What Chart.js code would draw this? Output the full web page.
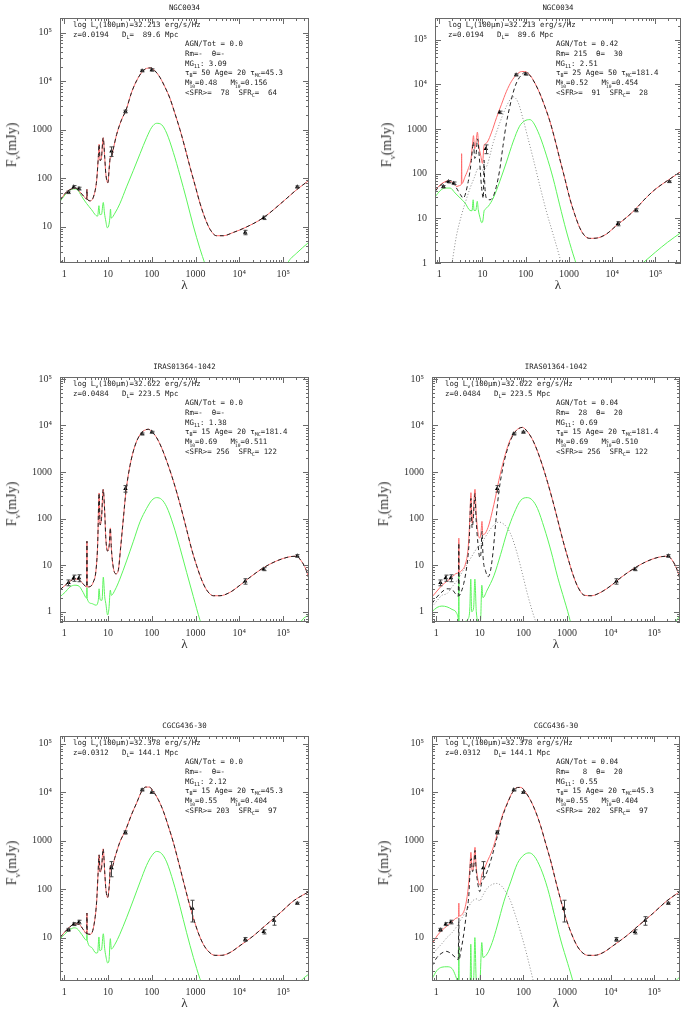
<!DOCTYPE html>
<html>
<head>
<meta charset="utf-8">
<script src="https://cdn.jsdelivr.net/npm/chart.js@4.4.1/dist/chart.umd.min.js"></script>
<style>
body { margin: 0; background: #fff; width: 686px; height: 1017px; position: relative; overflow: hidden; }
.panel { position: absolute; }
.txt { position: absolute; white-space: pre; font-family: "DejaVu Sans Mono", monospace; font-size: 7.4px; color: #222; line-height: 10px; }
.txt sub, .txt sup { font-size: 5px; line-height: 0; }
.ss { display: inline-block; vertical-align: -3px; font-size: 4.6px; line-height: 4.6px; }
.ss span { display: block; }
.ttl { position: absolute; font-family: "DejaVu Sans Mono", monospace; font-size: 7.4px; color: #222; transform: translate(-50%, -50%); white-space: pre; }
.ylab { position: absolute; font-family: "Liberation Serif", serif; font-size: 14px; color: #333; white-space: nowrap; transform: translate(-50%, -50%) rotate(-90deg); }
.ylab sub { font-size: 9px; }
.xlab { position: absolute; font-family: "Liberation Serif", serif; font-size: 13px; color: #333; transform: translate(-50%, -50%); }
</style>
</head>
<body>
<script>
// ---------- NGC0034 ----------
const ngcLam = [1.25, 1.65, 2.17, 12, 25, 60, 100, 13600, 36000, 210000];
const ngcFlux = [51, 66, 61, 360, 2360, 16300, 17000, 7.6, 15.2, 66];
const ngcErr = [3, 4, 4, 80, 150, 800, 900, 0.8, 1.2, 3];

const ngcTotal = [[0.8,35],[1.13,52],[1.47,60],[1.85,62],[2.28,52],[2.8,42],[3.25,37],[3.3,59],[3.35,37],[4.0,34],[4.8,45],[5.5,90],[6.0,270],[6.25,500],[6.6,230],[7.1,270],[7.75,680],[8.4,270],[8.9,124],[9.9,80],[10.7,170],[11.3,270],[11.9,270],[13.2,400],[15.7,790],[20.4,1600],[25.7,2500],[34.6,5900],[45,10200],[58.5,15000],[76,18300],[95,18700],[118,16300],[153,12000],[199,7600],[260,4400],[335,2200],[440,1000],[570,430],[745,170],[970,72],[1260,30.5],[1640,15],[2140,8.8],[3000,6.5],[4300,6.5],[7300,7.6],[13400,9.5],[35000,15.2],[100000,33],[200000,57],[390000,90]];
const ngcHost = [[0.8,33],[1.04,45],[1.35,57],[1.66,60],[1.98,58],[2.5,42],[3.24,30],[4.2,22.4],[5.3,17],[5.8,16.5],[6.2,27],[6.5,17.7],[7.1,18],[7.8,31.5],[8.3,19],[8.9,13],[9.6,9.5],[10.3,10.3],[11.0,15],[11.4,23],[11.8,15],[14.4,19],[18.6,29.6],[26.5,66],[38,145],[54,320],[76,680],[100,1120],[129,1350],[168,1260],[218,850],[310,340],[440,114],[625,35.5],[890,10.3],[1260,3.5],[1640,1.7],[2000,1],[10000,null],[100000,1],[128000,1.8],[200000,2.8],[390000,4.8]];

const ngcAgnTotal = [[0.8,41.5],[1.05,56],[1.37,66],[1.64,70],[2.14,61],[2.55,51.6],[2.94,54],[3.25,58],[3.3,280],[3.35,60],[3.97,86],[4.73,131],[5.45,218],[5.96,510],[6.2,710],[6.6,360],[7.1,510],[7.65,850],[8.2,430],[9.1,260],[10,170],[10.9,430],[11.6,465],[13,510],[16.3,850],[21.2,1800],[27.6,3570],[36,7000],[47,11700],[61,16300],[80,19300],[95,19300],[124,16300],[163,10700],[210,6400],[275,3250],[360,1520],[470,600],[610,218],[800,79],[1040,28.5],[1360,12.3],[1770,6.2],[2300,4.1],[3000,3.56],[4270,3.6],[7240,4.4],[12300,6.8],[21000,10.3],[32300,15],[60000,28.5],[100000,45],[190000,70],[390000,112]];
const ngcAgnBurst = [[0.8,40],[1.05,54],[1.37,64],[1.64,68],[2.14,59],[2.6,45],[3.1,34],[3.6,28.5],[4.7,67],[5.5,183],[6.2,510],[6.6,220],[7.1,260],[7.7,600],[8.5,220],[9.6,47],[10.5,28],[10.9,200],[11.3,60],[12.5,28],[15,26],[17.8,31],[21,52],[25,120],[30,430],[36,1400],[43,3200],[51,6400],[61,10700],[80,16300],[95,18300],[124,16000],[163,10600],[210,6400],[275,3250],[360,1520],[470,600],[610,218],[800,79],[1040,28.5],[1360,12.3],[1770,6.2],[2300,4.1],[3000,3.56],[4270,3.6],[7240,4.4],[12300,6.8],[21000,10.3],[32300,15],[60000,28.5],[100000,45],[190000,70],[390000,112]];
const ngcAgnTorus = [[1.95,0.9],[2.5,4],[3.3,12],[4.1,24],[5.2,48],[6.4,79],[8,130],[9.7,120],[11.5,130],[13,160],[17.8,500],[25.4,1400],[36,3250],[47,5000],[52,5250],[67,3900],[87,1660],[114,600],[149,218],[210,56],[300,14.5],[430,4.4],[610,1.35],[680,0.9]];
const ngcAgnHost = [[0.8,30],[1.05,41.5],[1.37,47.6],[1.79,47.6],[2.33,37],[3.05,28.5],[3.97,22],[5.17,15],[5.75,14.8],[6.1,26],[6.4,15],[7.0,15],[7.6,24],[8.0,15.8],[8.8,10.3],[9.6,8],[10.2,8.7],[10.9,14.5],[11.5,15.8],[13.7,18.7],[17.8,28.5],[25,66],[36,183],[51,510],[72,1150],[95,1520],[125,1620],[149,1410],[210,710],[300,260],[430,79],[610,20],[870,5.2],[1240,1.6],[1500,0.9],[10000,null],[45000,0.9],[100000,1.75],[190000,2.9],[390000,4.8]];

// ---------- IRAS01364-1042 ----------
const irasLam = [1.25, 1.65, 2.17, 25, 60, 100, 13600, 36000, 210000];
const irasFlux = [4.2, 5.3, 5.3, 440, 6600, 7200, 4.5, 8.2, 15.8];
const irasErr = [0.6, 0.8, 0.9, 70, 300, 300, 0.6, 0.6, 1.0];

const irasTotal = [[0.8,2.96],[1.04,3.66],[1.35,4.5],[1.75,5.05],[2.28,4.7],[2.8,3.8],[3.25,3.4],[3.3,32.6],[3.35,3.4],[4.0,3.5],[4.6,4.3],[5.3,7.6],[5.8,27.7],[6.25,355],[6.6,73],[7.1,101],[7.75,425],[8.4,140],[8.9,38],[9.8,20],[10.7,28],[11.3,63],[11.9,23.6],[13.2,8.9],[15.2,6.5],[17.1,7.6],[19.4,23.6],[22.4,100],[25.6,370],[31.7,1360],[41,3600],[53.6,6300],[67,7800],[83,8300],[104,7100],[130,5400],[168,3300],[218,1740],[285,830],[370,370],[480,152],[625,58],[815,21.8],[1060,9.7],[1380,4.8],[1800,2.9],[2550,2.2],[3600,2.2],[6100,2.6],[10300,3.7],[17600,5.5],[35000,8.7],[71000,12.3],[145000,15.2],[200000,15.5],[260000,12.3],[330000,8.2],[390000,5.0]];
const irasHost = [[0.8,2.1],[1.04,2.6],[1.35,3.4],[1.75,3.7],[2.2,3.5],[2.7,2.6],[3.25,1.95],[3.3,3.3],[3.35,1.9],[4.2,1.5],[5.3,1.38],[6.0,1.76],[6.25,3.1],[6.6,1.8],[7.3,1.76],[7.8,5.5],[8.4,2.1],[8.9,1.5],[9.8,0.85],[10.5,1.17],[11.3,2.9],[11.9,2.25],[14.4,2.9],[18.6,5.0],[26.5,12.3],[38,32.6],[54,86],[76,165],[100,247],[129,282],[168,257],[218,179],[310,73],[440,23.6],[625,7],[890,2.1],[1260,0.66],[1400,0.5],[10000,null],[240000,0.5],[260000,0.62],[390000,0.85]];

const irasAgnTotal = [[0.8,2.07],[1.04,2.77],[1.35,3.66],[1.76,4.5],[2.3,5.5],[3.0,6.7],[3.25,6.9],[3.3,38],[3.35,7],[3.9,7.8],[4.66,10.5],[5.4,23.6],[5.9,100],[6.25,360],[6.65,80],[7.1,140],[7.75,425],[8.2,140],[9.1,49],[10,38],[10.7,53],[11.2,87],[11.7,45],[13.5,49],[16.1,73],[19.2,140],[22.9,290],[27.3,660],[35.8,1880],[46.6,4250],[60.8,6900],[79,8700],[95,9100],[123,7400],[161,5000],[210,2800],[275,1350],[358,600],[467,247],[610,94],[795,35.5],[1040,14.5],[1350,6.5],[1770,3.4],[2500,2.25],[3600,2.2],[6100,2.64],[10300,3.66],[17600,5.5],[35000,8.6],[71000,12.3],[145000,15.2],[205000,15.5],[265000,12.3],[330000,8.2],[390000,5]];
const irasAgnBurst = [[0.8,1.5],[1.04,2.07],[1.35,2.65],[1.76,3.1],[2.3,3.0],[2.75,2.44],[3.2,2.14],[3.3,30],[3.35,2.2],[3.6,2.44],[4.27,4],[5.1,10.5],[5.7,32.6],[6.25,270],[6.65,63],[7.1,100],[7.75,345],[8.2,100],[9.1,27.7],[10,14.5],[10.7,20],[11.2,53],[11.9,14.5],[13.5,7.6],[15.6,5.65],[17.6,7.6],[20.2,20],[22.9,73],[27.3,370],[35.8,1600],[46.6,3900],[60.8,6700],[79,8650],[95,9100],[123,7400],[161,5000],[210,2800],[275,1350],[358,600],[467,247],[610,94],[795,35.5],[1040,14.5],[1350,6.5],[1770,3.4],[2500,2.25],[3600,2.2],[6100,2.64],[10300,3.66],[17600,5.5],[35000,8.6],[71000,12.3],[145000,15.2],[205000,15.5],[265000,12.3],[330000,8.2],[390000,5]];
const irasAgnTorus = [[0.8,1.27],[1.04,1.7],[1.35,2.25],[1.76,2.44],[2.3,3.4],[3.0,4.66],[3.9,7],[5.1,10.5],[6.65,15.8],[8.7,23.6],[10.4,27.7],[12.3,35.5],[16.1,53],[21,73],[27.3,84],[32.6,80],[42.7,63],[55.7,38],[72.8,17],[95,6.5],[123,2.44],[161,1],[192,0.6]];
const irasAgnHost = [[0.8,1.0],[1.04,1.23],[1.35,1.32],[1.76,1.27],[2.3,1.12],[2.9,0.95],[3.2,0.7],[3.25,0.6],[3.3,7],[3.35,0.6],[3.9,0.6],[4.66,0.62],[5.4,0.7],[5.9,1.2],[6.2,5],[6.5,1.0],[7.2,1.2],[7.7,5],[8.3,1.0],[9.5,0.6],[10.4,0.65],[11.1,3.7],[11.8,2.0],[14.7,2.9],[21,5.9],[30,17],[42.7,53],[61,130],[87,247],[123,282],[161,247],[210,165],[300,63],[430,20],[610,5.5],[870,1.77],[1040,1],[1200,0.6],[10000,null],[300000,0.6],[390000,0.81]];

// ---------- CGCG436-30 ----------
const cgcgLam = [1.25, 1.65, 2.17, 12, 25, 60, 100, 850, 13600, 36000, 62000, 210000];
const cgcgFlux = [14.5, 19, 21, 275, 1480, 11200, 9900, 40, 9.2, 13.2, 22.5, 51];
const cgcgErr = [1, 1.3, 1.8, 95, 110, 500, 450, 19, 0.8, 1.3, 4.5, 2.5];

const cgcgTotal = [[0.8,10],[1.04,13.2],[1.35,16.7],[1.75,19.2],[2.2,18.7],[2.7,14.8],[3.25,12.1],[3.3,32],[3.35,12],[4.0,11.7],[4.8,18.7],[5.5,56],[5.9,195],[6.25,510],[6.6,227],[7.1,265],[7.75,680],[8.4,227],[8.9,104],[9.8,67],[10.7,121],[11.4,310],[12.3,285],[14.4,455],[18.6,930],[25.7,1730],[34.6,3500],[45,6000],[58.5,10400],[72,12800],[88,12800],[108,10400],[140,7100],[183,4100],[237,2030],[310,930],[400,390],[520,153],[680,60],[890,25.6],[1150,12.6],[1500,7.3],[1960,5.2],[2770,4.3],[3900,4.3],[6100,4.9],[10300,6.8],[20800,10.8],[42000,18.7],[85000,32.2],[172000,57],[390000,89]];
const cgcgHost = [[0.8,9.3],[1.04,12],[1.35,14.5],[1.66,15.9],[1.98,15.2],[2.5,11.7],[3.24,8.8],[3.3,12],[3.36,8.7],[4.2,6.3],[5.3,4.8],[5.8,4.9],[6.2,10.3],[6.5,5.4],[7.1,5.6],[7.8,12],[8.4,5.9],[8.9,4.2],[9.8,3.0],[10.5,3.3],[11.3,9.5],[11.9,5.8],[14.4,7.3],[18.6,11.7],[26.5,25.6],[38,60],[54,141],[76,310],[100,490],[129,600],[168,540],[218,365],[310,141],[440,44],[625,12.6],[890,3.9],[1260,1.41],[1400,1.1],[10000,null],[230000,1.1],[260000,1.3],[390000,1.78]];

const cgcgAgnTotal = [[0.8,7.3],[1.04,10.8],[1.35,14.1],[1.76,17.3],[2.3,21.2],[3.0,25.6],[3.25,27],[3.3,51.5],[3.35,28],[3.9,29.8],[4.66,44],[5.4,104],[5.9,265],[6.25,575],[6.65,245],[7.1,265],[7.75,730],[8.2,310],[9.1,153],[10,121],[11.1,195],[12.3,245],[14.7,365],[19.2,630],[25,1370],[32.6,3240],[42.7,6000],[55.7,9900],[72.8,12600],[87,12600],[113,9900],[147,6700],[192,3900],[251,1950],[327,850],[428,365],[557,141],[727,57],[950,24.6],[1240,12.6],[1620,7.3],[2100,5.2],[3000,4.3],[4300,4.3],[6700,4.9],[11400,6.8],[23000,10.8],[47000,18.7],[95000,32],[193000,57],[390000,89]];
const cgcgAgnBurst = [[0.8,2.6],[1.04,3.9],[1.35,4.8],[1.7,5.2],[2.1,4.8],[2.75,3.9],[3.2,3.5],[3.3,25],[3.36,3.6],[3.7,5.4],[4.27,11.7],[4.9,30],[5.6,76],[6.1,365],[6.35,425],[6.8,229],[7.3,310],[7.75,630],[8.2,265],[9.1,121],[10,89],[11.1,141],[12.3,166],[14.7,229],[19.2,490],[25,1200],[32.6,3000],[42.7,5800],[55.7,9800],[72.8,12500],[87,12600],[113,9900],[147,6700],[192,3900],[251,1950],[327,850],[428,365],[557,141],[727,57],[950,24.6],[1240,12.6],[1620,7.3],[2100,5.2],[3000,4.3],[4300,4.3],[6700,4.9],[11400,6.8],[23000,10.8],[47000,18.7],[95000,32],[193000,57],[390000,89]];
const cgcgAgnTorus = [[0.8,4.3],[1.04,5.8],[1.35,7.5],[1.76,10],[2.3,12.6],[3.0,17.3],[3.9,25.6],[5.1,38],[6.65,56],[8.7,63],[10,57],[11.3,70],[14.7,104],[19.2,125],[24.2,131],[30,121],[39,89],[51,56],[66.5,27.6],[87,12.6],[113,5.4],[147,2.1],[175,1.1]];
const cgcgAgnHost = [[0.8,1.41],[1.04,2.1],[1.35,2.45],[1.76,2.5],[2.3,2.3],[2.75,1.66],[3.1,1.2],[3.25,1.0],[3.3,6.3],[3.36,1.0],[3.7,1.3],[4.5,1.3],[5.6,1.3],[6.0,1.35],[6.2,7.3],[6.5,1.3],[7.2,1.35],[7.7,10],[8.3,1.3],[9.1,1.2],[10,1.2],[11.1,7.9],[11.8,3.9],[14.7,4.6],[19.2,7.9],[25,17.3],[35.8,56],[51,141],[73,340],[103,510],[135,560],[177,480],[251,265],[358,104],[510,30],[727,8.5],[1040,2.9],[1350,1.3],[1450,1.0],[10000,null],[260000,1.1],[390000,1.55]];

// ---------- annotation text ----------
const M = (s, v) => 'M<span class="ss"><span>' + s + '</span><span>10</span></span>=' + v;
const ngcHead = ['log L<sub>ν</sub>(100μm)=32.213 erg/s/Hz', 'z=0.0194   D<sub>L</sub>=  89.6 Mpc'];
const irasHead = ['log L<sub>ν</sub>(100μm)=32.622 erg/s/Hz', 'z=0.0484   D<sub>L</sub>= 223.5 Mpc'];
const cgcgHead = ['log L<sub>ν</sub>(100μm)=32.378 erg/s/Hz', 'z=0.0312   D<sub>L</sub>= 144.1 Mpc'];
const ngcFit = ['AGN/Tot = 0.0', 'Rm=-  θ=-', 'MG<sub>11</sub>: 3.09', 'τ<sub>B</sub>= 50 Age= 20 τ<sub>MC</sub>=45.3', M('B','0.48') + '   ' + M('S','0.156'), '&lt;SFR&gt;=  78  SFR<sub>C</sub>=  64'];
const ngcAgnFit = ['AGN/Tot = 0.42', 'Rm= 215  θ=  30', 'MG<sub>11</sub>: 2.51', 'τ<sub>B</sub>= 25 Age= 50 τ<sub>MC</sub>=181.4', M('B','0.52') + '   ' + M('S','0.454'), '&lt;SFR&gt;=  91  SFR<sub>C</sub>=  28'];
const irasFit = ['AGN/Tot = 0.0', 'Rm=-  θ=-', 'MG<sub>11</sub>: 1.38', 'τ<sub>B</sub>= 15 Age= 20 τ<sub>MC</sub>=181.4', M('B','0.69') + '   ' + M('S','0.511'), '&lt;SFR&gt;= 256  SFR<sub>C</sub>= 122'];
const irasAgnFit = ['AGN/Tot = 0.04', 'Rm=  28  θ=  20', 'MG<sub>11</sub>: 0.69', 'τ<sub>B</sub>= 15 Age= 20 τ<sub>MC</sub>=181.4', M('B','0.69') + '   ' + M('S','0.510'), '&lt;SFR&gt;= 256  SFR<sub>C</sub>= 122'];
const cgcgFit = ['AGN/Tot = 0.0', 'Rm=-  θ=-', 'MG<sub>11</sub>: 2.12', 'τ<sub>B</sub>= 15 Age= 20 τ<sub>MC</sub>=45.3', M('B','0.55') + '   ' + M('S','0.404'), '&lt;SFR&gt;= 203  SFR<sub>C</sub>=  97'];
const cgcgAgnFit = ['AGN/Tot = 0.04', 'Rm=   8  θ=  20', 'MG<sub>11</sub>: 0.55', 'τ<sub>B</sub>= 15 Age= 20 τ<sub>MC</sub>=45.3', M('B','0.55') + '   ' + M('S','0.404'), '&lt;SFR&gt;= 202  SFR<sub>C</sub>=  97'];

// ---------- layout of the six panels ----------
const panels = [
  { title: 'NGC0034', left: 60, top: 14, width: 249, yMin: 1.78, yMax: 2.0e5, total: ngcTotal, burst: ngcTotal, torus: null, host: ngcHost, lam: ngcLam, flux: ngcFlux, err: ngcErr, head: ngcHead, fit: ngcFit },
  { title: 'NGC0034', left: 435, top: 14, width: 246, yMin: 1, yMax: 3.05e5, total: ngcAgnTotal, burst: ngcAgnBurst, torus: ngcAgnTorus, host: ngcAgnHost, lam: ngcLam, flux: ngcFlux, err: ngcErr, head: ngcHead, fit: ngcAgnFit },
  { title: 'IRAS01364-1042', left: 60, top: 373, width: 249, yMin: 0.62, yMax: 1.1e5, total: irasTotal, burst: irasTotal, torus: null, host: irasHost, lam: irasLam, flux: irasFlux, err: irasErr, head: irasHead, fit: irasFit },
  { title: 'IRAS01364-1042', left: 432, top: 373, width: 248, yMin: 0.62, yMax: 1.1e5, total: irasAgnTotal, burst: irasAgnBurst, torus: irasAgnTorus, host: irasAgnHost, lam: irasLam, flux: irasFlux, err: irasErr, head: irasHead, fit: irasAgnFit },
  { title: 'CGCG436-30', left: 60, top: 732, width: 249, yMin: 1.27, yMax: 1.45e5, total: cgcgTotal, burst: cgcgTotal, torus: null, host: cgcgHost, lam: cgcgLam, flux: cgcgFlux, err: cgcgErr, head: cgcgHead, fit: cgcgFit },
  { title: 'CGCG436-30', left: 432, top: 732, width: 248, yMin: 1.27, yMax: 1.45e5, total: cgcgAgnTotal, burst: cgcgAgnBurst, torus: cgcgAgnTorus, host: cgcgAgnHost, lam: cgcgLam, flux: cgcgFlux, err: cgcgErr, head: cgcgHead, fit: cgcgAgnFit }
];
const plotH = 249;
const xMin = 0.8, xMax = 3.9e5;

const tickText = { 1: '1', 10: '10', 100: '100', 1000: '1000', 10000: '10⁴', 100000: '10⁵' };

const decades = (min, max) => {
  const out = [];
  for (let e = Math.ceil(Math.log10(min) - 1e-9); Math.pow(10, e) <= max * 1.0001; e++) out.push({ value: Math.pow(10, e) });
  return out;
};

// PGPLOT-like frame with inward major/minor ticks on all four sides
const frameTicks = {
  id: 'frameTicks',
  afterDraw(chart) {
    const { ctx, chartArea: a, scales: { x, y } } = chart;
    ctx.save();
    ctx.strokeStyle = '#6a6a6a';
    ctx.lineWidth = 1;
    ctx.strokeRect(Math.round(a.left) + 0.5, Math.round(a.top) + 0.5, Math.round(a.width) - 1, Math.round(a.height) - 1);
    ctx.beginPath();
    for (let e = -1; e <= 6; e++) {
      for (let k = 1; k <= 9; k++) {
        const v = k * Math.pow(10, e);
        const len = k === 1 ? 6 : 3;
        if (v >= x.min && v <= x.max) {
          const px = Math.round(x.getPixelForValue(v)) + 0.5;
          ctx.moveTo(px, a.bottom); ctx.lineTo(px, a.bottom - len);
          ctx.moveTo(px, a.top); ctx.lineTo(px, a.top + len);
        }
        if (v >= y.min && v <= y.max) {
          const py = Math.round(y.getPixelForValue(v)) + 0.5;
          ctx.moveTo(a.left, py); ctx.lineTo(a.left + len, py);
          ctx.moveTo(a.right, py); ctx.lineTo(a.right - len, py);
        }
      }
    }
    ctx.stroke();
    ctx.restore();
  }
};

const errorBars = {
  id: 'errorBars',
  afterDatasetsDraw(chart) {
    const { ctx, scales: { y } } = chart;
    chart.data.datasets.forEach((ds, i) => {
      if (!ds.errors) return;
      const meta = chart.getDatasetMeta(i);
      ctx.save();
      ctx.strokeStyle = '#444';
      ctx.lineWidth = 1;
      ctx.beginPath();
      meta.data.forEach((pt, j) => {
        const v = ds.data[j].y, e = ds.errors[j];
        const y0 = y.getPixelForValue(v - e), y1 = y.getPixelForValue(v + e);
        const px = Math.round(pt.x) + 0.5;
        ctx.moveTo(px, y0); ctx.lineTo(px, y1);
        ctx.moveTo(px - 2, y0); ctx.lineTo(px + 2, y0);
        ctx.moveTo(px - 2, y1); ctx.lineTo(px + 2, y1);
      });
      ctx.stroke();
      ctx.restore();
    });
  }
};

const curve = (pairs, color, dash, order) => ({
  type: 'line',
  data: pairs.map(p => ({ x: p[0], y: p[1] })),
  borderColor: color,
  borderWidth: 1,
  borderDash: dash,
  pointRadius: 0,
  fill: false,
  cubicInterpolationMode: 'monotone',
  spanGaps: false,
  order
});

const addDiv = (cls, html, left, top) => {
  const d = document.createElement('div');
  d.className = cls;
  d.innerHTML = html;
  d.style.left = left + 'px';
  d.style.top = top + 'px';
  document.body.appendChild(d);
  return d;
};

panels.forEach(p => {
  const padTop = 10, padRight = 6, yw = 56, xh = 24;
  const wrap = document.createElement('div');
  wrap.className = 'panel';
  wrap.style.left = (p.left - yw) + 'px';
  wrap.style.top = (p.top - padTop) + 'px';
  const cv = document.createElement('canvas');
  cv.width = yw + p.width + padRight;
  cv.height = padTop + plotH + xh;
  wrap.appendChild(cv);
  document.body.appendChild(wrap);

  const datasets = [
    {
      type: 'line', showLine: false,
      data: p.lam.map((l, i) => ({ x: l, y: p.flux[i] })),
      errors: p.err,
      pointStyle: 'triangle', pointRadius: 2.6, pointBackgroundColor: '#000', pointBorderColor: '#000', pointBorderWidth: 0,
      order: 0
    },
    curve(p.burst, '#222', [4, 3], 1),
    curve(p.total, '#ff6a6a', [], 2),
    curve(p.host, '#5cf55c', [], 4)
  ];
  if (p.torus) datasets.push(curve(p.torus, '#8a8a8a', [1, 2], 3));

  new Chart(cv, {
    type: 'line',
    data: { datasets },
    options: {
      responsive: false,
      animation: false,
      layout: { padding: { top: padTop, right: padRight, left: 0, bottom: 0 } },
      plugins: { legend: { display: false }, tooltip: { enabled: false } },
      scales: {
        x: {
          type: 'logarithmic', min: xMin, max: xMax,
          afterBuildTicks: s => { s.ticks = decades(xMin, xMax); },
          afterFit: s => { s.height = xh; },
          grid: { display: false, drawTicks: false },
          border: { display: false },
          ticks: { autoSkip: false, maxRotation: 0, padding: 5, color: '#333', font: { family: 'Liberation Serif', size: 10 }, callback: v => tickText[v] || '' }
        },
        y: {
          type: 'logarithmic', min: p.yMin, max: p.yMax,
          afterBuildTicks: s => { s.ticks = decades(p.yMin, p.yMax); },
          afterFit: s => { s.width = yw; },
          grid: { display: false, drawTicks: false },
          border: { display: false },
          ticks: { autoSkip: false, padding: 8, color: '#333', font: { family: 'Liberation Serif', size: 10 }, callback: v => tickText[v] || '' }
        }
      }
    },
    plugins: [frameTicks, errorBars]
  });

  // texts
  const cx = p.left + p.width / 2;
  addDiv('ttl', p.title, cx, p.top - 7);
  addDiv('ylab', 'F<sub>ν</sub>(mJy)', p.left - 47, p.top + plotH / 2 + 6);
  addDiv('xlab', 'λ', cx, p.top + plotH + 22);
  const headX = p.left + 13;
  const fitX = p.left < 300 ? 185 : 556;
  p.head.forEach((t, i) => addDiv('txt', t, headX, p.top + 11 + i * 9.5 - 5));
  p.fit.forEach((t, i) => addDiv('txt', t, fitX, p.top + 30 + i * 9.8 - 5));
});
</script>
</body>
</html>
